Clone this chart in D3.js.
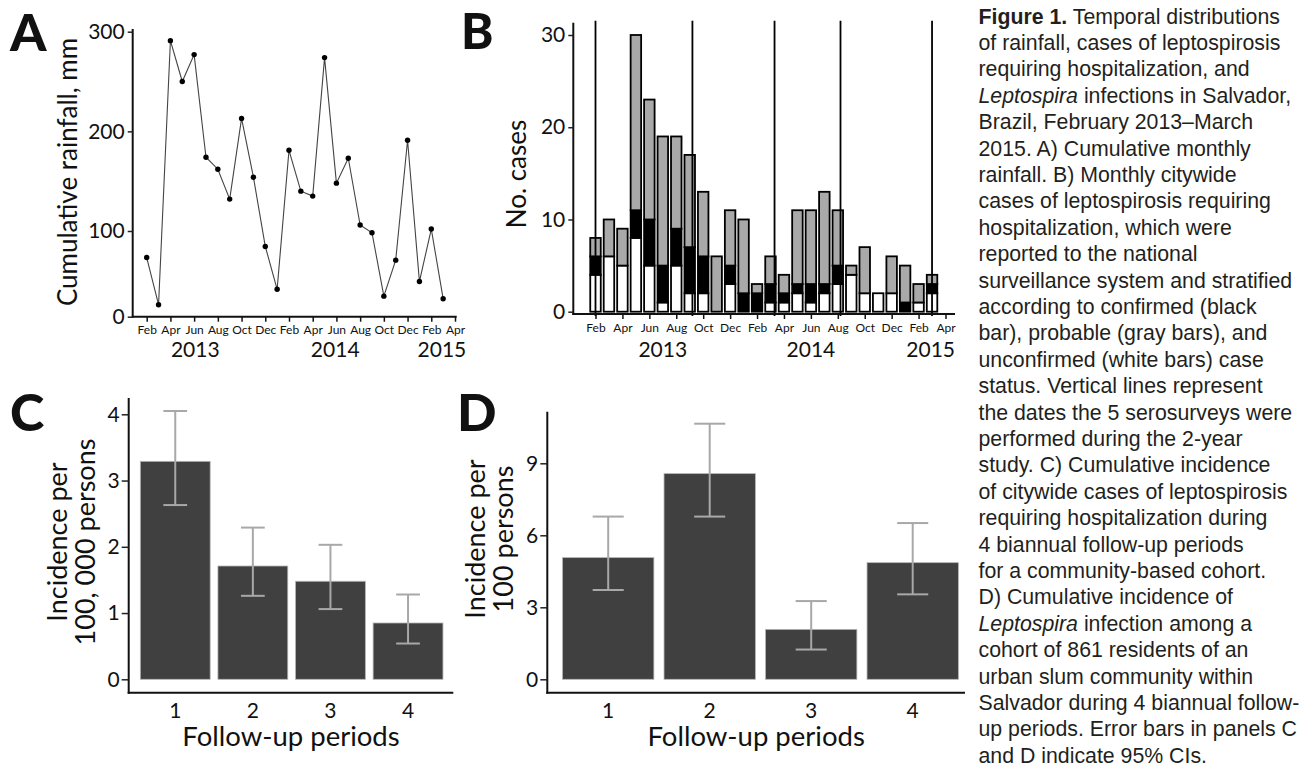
<!DOCTYPE html>
<html>
<head>
<meta charset="utf-8">
<script src="https://cdn.jsdelivr.net/npm/d3@7"></script>
<style>
  body { margin: 0; background: #fff; }
  svg text { font-family: Lato, "Open Sans", sans-serif; fill: #111; }
  .cap text { font-family: "Liberation Sans", Arial, sans-serif; fill: #231f20; }
</style>
</head>
<body>
<svg id="fig" width="1299" height="770"></svg>
<script>
// months Feb 2013 .. Mar 2015 (index 0..25), ticks every 2 months to Apr 2015 (26)
var monthTicks = ["Feb","Apr","Jun","Aug","Oct","Dec","Feb","Apr","Jun","Aug","Oct","Dec","Feb","Apr"]
var years = ["2013", "2014", "2015"]
var yearAtA = [4.1, 15.9, 24.9]
var yearAtB = [5.0, 16.0, 24.9]

// A) cumulative monthly rainfall, mm
var rainfall = [69, 14, 291, 250, 277, 174, 162, 132, 213, 154, 82, 32,
                181, 140, 135, 274, 148, 173, 106, 98, 24, 66, 191, 41, 102, 21]

// B) monthly cases by status
var unconfirmed = [4, 6, 5, 8, 5, 1, 5, 2, 2, 0, 3, 0, 0, 1, 1, 2, 1, 2, 3, 4, 2, 2, 2, 0, 1, 2]
var confirmed   = [2, 0, 0, 3, 5, 4, 4, 5, 4, 0, 2, 2, 2, 2, 1, 1, 2, 1, 2, 0, 0, 0, 0, 1, 0, 1]
var probable    = [2, 4, 4, 19, 13, 14, 10, 10, 7, 6, 6, 8, 1, 3, 2, 8, 8, 10, 6, 1, 5, 0, 4, 4, 2, 1]
var serosurveys = [0.0, 7.2, 13.3, 18.2, 25.0]   // month index of the 5 surveys

// C) incidence of hospitalised cases per 100,000
var periods = ["1", "2", "3", "4"]
var hospInc = [3.29, 1.71, 1.48, 0.85]
var hospLo  = [2.63, 1.26, 1.06, 0.54]
var hospHi  = [4.05, 2.29, 2.03, 1.28]

// D) incidence of infection per 100
var infInc = [5.07, 8.57, 2.08, 4.86]
var infLo  = [3.72, 6.78, 1.24, 3.54]
var infHi  = [6.78, 10.65, 3.26, 6.51]

var svg = d3.select("#fig")

function panelLetter(txt, x, y, size) {
  svg.append("text").attr("x", x).attr("y", y)
    .attr("font-size", size || 52).attr("font-weight", 900).text(txt)
}

function leftAxis(scale, x, ticks, tsize) {
  var g = svg.append("g").attr("transform", "translate(" + x + ",0)")
    .call(d3.axisLeft(scale).tickValues(ticks).tickFormat(d3.format("d")).tickSize(tsize).tickPadding(3))
  g.select(".domain").remove()
  g.selectAll("line").attr("stroke", "#222").attr("stroke-width", 1.5)
  g.selectAll("text").attr("font-size", 21).attr("font-family", "Lato").attr("fill", "#111")
  return g
}

function axisLine(x1, y1, x2, y2) {
  svg.append("line").attr("x1", x1).attr("y1", y1).attr("x2", x2).attr("y2", y2)
    .attr("stroke", "#111").attr("stroke-width", 2)
}

function monthAxis(scale, y) {
  var g = svg.append("g").attr("transform", "translate(0," + y + ")")
    .call(d3.axisBottom(scale).tickValues(d3.range(0, 27, 2))
      .tickFormat(function (d, i) { return monthTicks[i] }).tickSize(5).tickPadding(4))
  g.select(".domain").remove()
  g.selectAll("line").attr("stroke", "#111").attr("stroke-width", 1.5)
  g.selectAll("text").attr("font-size", 12).attr("font-family", "Lato").attr("fill", "#111")
}

function yearLabels(scale, at) {
  svg.append("g").selectAll("text").data(years).enter().append("text")
    .attr("x", function (d, i) { return scale(at[i]) }).attr("y", 357)
    .attr("text-anchor", "middle").attr("font-size", 21).text(function (d) { return d })
}

function yTitle(lines, x0, cy, size, gap) {
  lines.forEach(function (l, i) {
    svg.append("text").attr("transform", "translate(" + (x0 + i * gap) + "," + cy + ") rotate(-90)")
      .attr("text-anchor", "middle").attr("font-size", size).text(l)
  })
}

// ---------------- A
panelLetter("A", 10, 51)
var xA = d3.scaleLinear().domain([0, 26]).range([146.7, 455])
var yA = d3.scaleLinear().domain([0, 100, 300]).range([316.7, 231, 31.7])
axisLine(132.7, 29, 132.7, 317.7)
axisLine(131.7, 316.7, 456.7, 316.7)
leftAxis(yA, 132.7, [0, 100, 200, 300], 5)
monthAxis(xA, 316.7)
yearLabels(xA, yearAtA)
yTitle(["Cumulative rainfall, mm"], 77, 172, 26, 0)

svg.append("path").datum(rainfall)
  .attr("d", d3.line().x(function (d, i) { return xA(i) }).y(function (d) { return yA(d) }))
  .attr("fill", "none").attr("stroke", "#444").attr("stroke-width", 1.1)
svg.append("g").selectAll("circle").data(rainfall).enter().append("circle")
  .attr("cx", function (d, i) { return xA(i) }).attr("cy", function (d) { return yA(d) })
  .attr("r", 2.7).attr("fill", "#000")

// ---------------- B
panelLetter("B", 461, 49, 49)
var xB = d3.scaleLinear().domain([0, 26]).range([595.5, 945.5])
var yB = d3.scaleLinear().domain([0, 30]).range([311.7, 35])
var barW = 10.5

var stacks = unconfirmed.map(function (u, i) {
  var c = confirmed[i], p = probable[i]
  return [
    { i: i, y0: 0, y1: u, fill: "#fff" },
    { i: i, y0: u, y1: u + c, fill: "#000" },
    { i: i, y0: u + c, y1: u + c + p, fill: "#a9a9a9" }
  ]
})
var segs = [].concat.apply([], stacks).filter(function (s) { return s.y1 > s.y0 })
svg.append("g").selectAll("rect").data(segs).enter().append("rect")
  .attr("x", function (s) { return xB(s.i) - barW / 2 })
  .attr("width", barW)
  .attr("y", function (s) { return yB(s.y1) })
  .attr("height", function (s) { return yB(s.y0) - yB(s.y1) })
  .attr("fill", function (s) { return s.fill })
  .attr("stroke", "#000").attr("stroke-width", 1.8)

svg.append("g").selectAll("line").data(serosurveys).enter().append("line")
  .attr("x1", function (d) { return xB(d) }).attr("x2", function (d) { return xB(d) })
  .attr("y1", 20.7).attr("y2", 316)
  .attr("stroke", "#000").attr("stroke-width", 1.8)

axisLine(573.3, 22.7, 573.3, 315)
axisLine(572.3, 314, 955, 314)
leftAxis(yB, 573.3, [0, 10, 20, 30], 5)
monthAxis(xB, 314)
yearLabels(xB, yearAtB)
yTitle(["No. cases"], 526, 174, 26, 0)

// ---------------- C and D
function incidencePanel(letter, lx, inc, lo, hi, range, yDomain, yRange, ticks, axisX0, axisX1, axisTop, titleLines, tx, ty) {
  panelLetter(letter, lx, 431)
  var x = d3.scaleBand().domain(periods).range(range).paddingInner(0.1).paddingOuter(0.15)
  var y = d3.scaleLinear().domain(yDomain).range(yRange)
  var bw = x.bandwidth()

  svg.append("g").selectAll("rect").data(periods).enter().append("rect")
    .attr("x", function (d) { return x(d) }).attr("width", bw)
    .attr("y", function (d, i) { return y(inc[i]) })
    .attr("height", function (d, i) { return y(0) - y(inc[i]) })
    .attr("fill", "#404040").attr("stroke", "#b5b5b5").attr("stroke-width", 0.8)

  var eb = svg.append("g").attr("stroke", "#a8a8a8").attr("stroke-width", 2)
  periods.forEach(function (d, i) {
    var cx = x(d) + bw / 2, cw = bw * 0.34
    eb.append("line").attr("x1", cx).attr("x2", cx).attr("y1", y(lo[i])).attr("y2", y(hi[i]))
    eb.append("line").attr("x1", cx - cw / 2).attr("x2", cx + cw / 2).attr("y1", y(lo[i])).attr("y2", y(lo[i]))
    eb.append("line").attr("x1", cx - cw / 2).attr("x2", cx + cw / 2).attr("y1", y(hi[i])).attr("y2", y(hi[i]))
  })

  axisLine(axisX0, axisTop, axisX0, 693.7)
  axisLine(axisX0 - 1, 692.7, axisX1, 692.7)
  leftAxis(y, axisX0, ticks, 7).selectAll("text").attr("dx", 1)

  svg.append("g").selectAll("text").data(periods).enter().append("text")
    .attr("x", function (d) { return x(d) + bw / 2 }).attr("y", 717.5)
    .attr("text-anchor", "middle").attr("font-size", 21).text(function (d) { return d })
  svg.append("text").attr("x", (axisX0 + axisX1) / 2).attr("y", 746)
    .attr("text-anchor", "middle").attr("font-size", 27.5).text("Follow-up periods")
  yTitle(titleLines, tx, ty, 27, 28)
}

incidencePanel("C", 10, hospInc, hospLo, hospHi, [128.7, 454.6], [0, 4], [679.3, 414.3],
  [0, 1, 2, 3, 4], 128.7, 453.3, 398, ["Incidence per", "100, 000 persons"], 66.5, 542)
incidencePanel("D", 457, infInc, infLo, infHi, [547.3, 973.6], [0, 9], [679.3, 463.3],
  [0, 3, 6, 9], 547.3, 965, 411.7, ["Incidence per", "100 persons"], 485, 539)

// ---------------- caption
var caption = [
  [["Figure 1.", "b"], [" Temporal distributions", ""]],
  [["of rainfall, cases of leptospirosis", ""]],
  [["requiring hospitalization, and", ""]],
  [["Leptospira", "i"], [" infections in Salvador,", ""]],
  [["Brazil, February 2013\u2013March", ""]],
  [["2015. A) Cumulative monthly", ""]],
  [["rainfall. B) Monthly citywide", ""]],
  [["cases of leptospirosis requiring", ""]],
  [["hospitalization, which were", ""]],
  [["reported to the national", ""]],
  [["surveillance system and stratified", ""]],
  [["according to confirmed (black", ""]],
  [["bar), probable (gray bars), and", ""]],
  [["unconfirmed (white bars) case", ""]],
  [["status. Vertical lines represent", ""]],
  [["the dates the 5 serosurveys were", ""]],
  [["performed during the 2-year", ""]],
  [["study. C) Cumulative incidence", ""]],
  [["of citywide cases of leptospirosis", ""]],
  [["requiring hospitalization during", ""]],
  [["4 biannual follow-up periods", ""]],
  [["for a community-based cohort.", ""]],
  [["D) Cumulative incidence of", ""]],
  [["Leptospira", "i"], [" infection among a", ""]],
  [["cohort of 861 residents of an", ""]],
  [["urban slum community within", ""]],
  [["Salvador during 4 biannual follow-", ""]],
  [["up periods. Error bars in panels C", ""]],
  [["and D indicate 95% CIs.", ""]]
]
var cap = svg.append("g").attr("class", "cap")
caption.forEach(function (line, k) {
  var t = cap.append("text").attr("x", 978.5).attr("y", 23.5 + k * 26.4).attr("font-size", 21.3)
  line.forEach(function (part) {
    t.append("tspan").text(part[0])
      .attr("font-weight", part[1] === "b" ? "bold" : null)
      .attr("font-style", part[1] === "i" ? "italic" : null)
  })
})
</script>
</body>
</html>
